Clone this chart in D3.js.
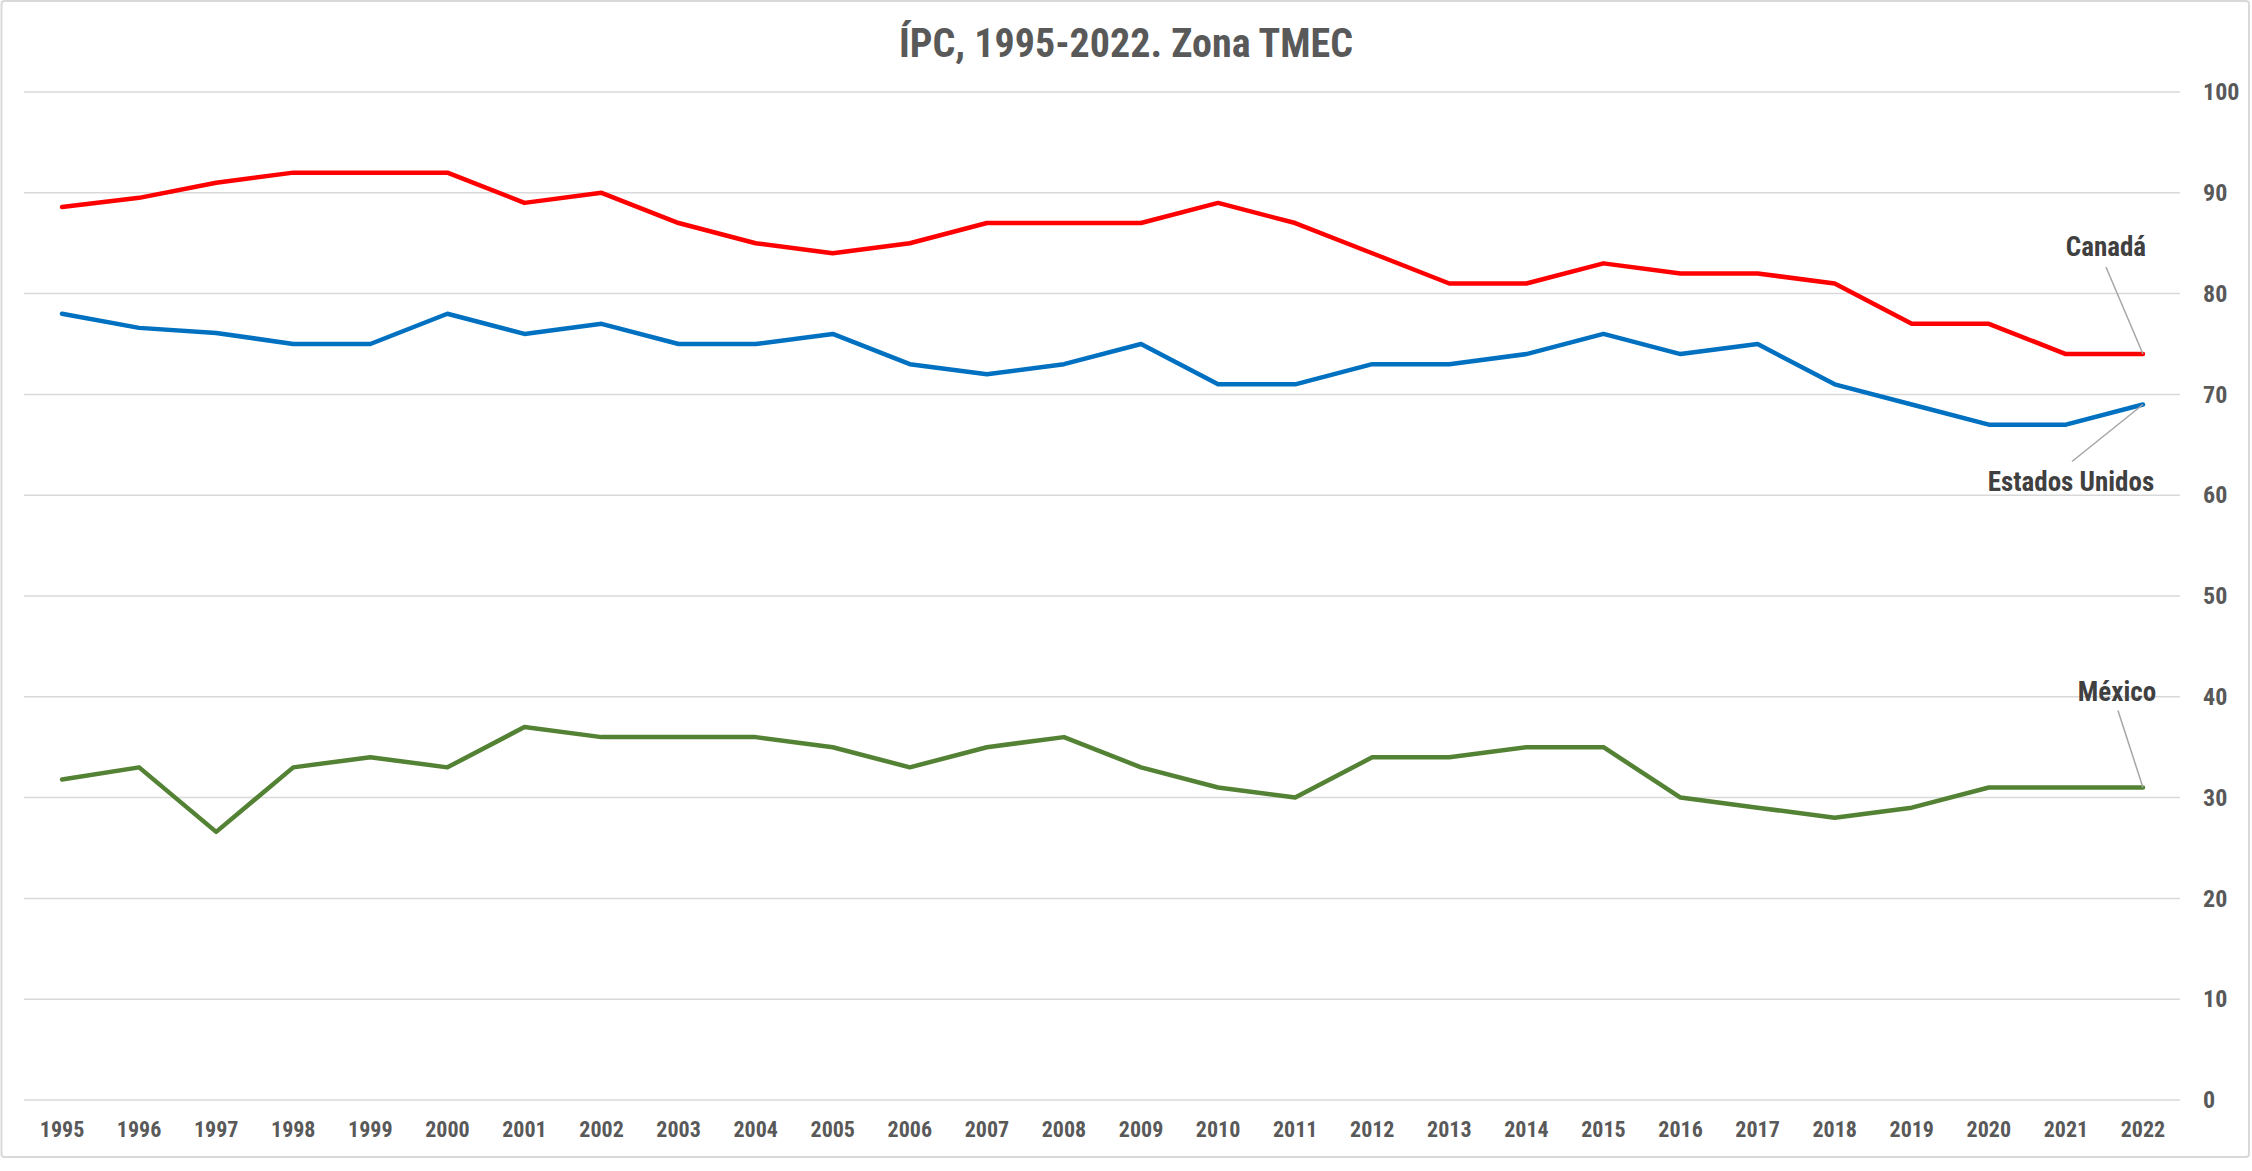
<!DOCTYPE html>
<html>
<head>
<meta charset="utf-8">
<script src="https://cdn.jsdelivr.net/npm/d3@7"></script>
<style>
  html, body { margin: 0; padding: 0; background: #fff; }
  #chart { width: 2252px; height: 1171px; }
</style>
</head>
<body>
<div id="chart"></div>
<script>
var years = [1995, 1996, 1997, 1998, 1999, 2000, 2001, 2002, 2003, 2004, 2005, 2006, 2007, 2008,
  2009, 2010, 2011, 2012, 2013, 2014, 2015, 2016, 2017, 2018, 2019, 2020, 2021, 2022];
var canada = [88.6, 89.5, 91, 92, 92, 92, 89, 90, 87, 85, 84, 85, 87, 87,
  87, 89, 87, 84, 81, 81, 83, 82, 82, 81, 77, 77, 74, 74];
var estadosUnidos = [78, 76.6, 76.1, 75, 75, 78, 76, 77, 75, 75, 76, 73, 72, 73,
  75, 71, 71, 73, 73, 74, 76, 74, 75, 71, 69, 67, 67, 69];
var mexico = [31.8, 33, 26.6, 33, 34, 33, 37, 36, 36, 36, 35, 33, 35, 36,
  33, 31, 30, 34, 34, 35, 35, 30, 29, 28, 29, 31, 31, 31];
var seriesNames = ['Canadá', 'Estados Unidos', 'México'];
var yTicks = [0, 10, 20, 30, 40, 50, 60, 70, 80, 90, 100];
var title = 'ÍPC, 1995-2022. Zona TMEC';

(function() {
  var FONT = '"Liberation Sans Narrow", "Arial Narrow", "Roboto Condensed", "DejaVu Sans Condensed", sans-serif';
  var w = 2252, h = 1171;
  var colors = { 'Canadá': '#ff0000', 'Estados Unidos': '#0070c0', 'México': '#548235' };
  // label placement relative to the last point: text center/baseline, leader line start
  var labelPos = {
    'Canadá': { tx: -37, ty: -98, lx: -37, ly: -87 },
    'Estados Unidos': { tx: -72, ty: 87, lx: -71, ly: 57 },
    'México': { tx: -26, ty: -87, lx: -25, ly: -77 }
  };
  var series = [
    { name: seriesNames[0], values: canada },
    { name: seriesNames[1], values: estadosUnidos },
    { name: seriesNames[2], values: mexico }
  ];

  var svg = d3.select('#chart').append('svg').attr('width', w).attr('height', h);

  // Border
  svg.append('rect').attr('x', 1.5).attr('y', 1).attr('width', 2247.5).attr('height', 1156)
    .attr('rx', 3).attr('fill', '#fff').attr('stroke', '#d9d9d9').attr('stroke-width', 2);

  var xScale = d3.scaleBand().domain(years).range([23.5, 2181.5]);
  var xc = function(d) { return xScale(d) + xScale.bandwidth() / 2; };
  var yScale = d3.scaleLinear().domain([0, 100]).range([1100, 92]);

  // Title
  svg.append('text').attr('x', w / 2).attr('y', 57).attr('text-anchor', 'middle')
    .attr('fill', '#595959').attr('font-size', '40px').attr('font-weight', 'bold').attr('font-family', FONT)
    .text(title);

  // Grid
  svg.append('g').selectAll('line').data(yTicks).join('line')
    .attr('x1', 24).attr('x2', 2180)
    .attr('y1', function(d) { return yScale(d); }).attr('y2', function(d) { return yScale(d); })
    .attr('stroke', '#d9d9d9').attr('stroke-width', 1.5);

  // Axes
  svg.append('g').attr('transform', 'translate(2180,0)')
    .call(d3.axisRight(yScale).tickValues(yTicks).tickSize(0).tickPadding(23))
    .call(function(g) { g.select('.domain').remove(); })
    .call(function(g) { g.selectAll('.tick text').attr('fill', '#595959').attr('font-size', '24px')
      .attr('font-weight', 'bold').attr('font-family', FONT); });

  svg.append('g').attr('transform', 'translate(0,1100)')
    .call(d3.axisBottom(xScale).tickSize(0).tickPadding(21))
    .call(function(g) { g.select('.domain').remove(); })
    .call(function(g) { g.selectAll('.tick text').attr('fill', '#595959').attr('font-size', '22px')
      .attr('font-weight', 'bold').attr('font-family', FONT); });

  // Lines
  var line = d3.line().x(function(d, i) { return xc(years[i]); }).y(function(d) { return yScale(d); });
  svg.append('g').selectAll('path').data(series).join('path')
    .attr('d', function(s) { return line(s.values); })
    .attr('fill', 'none')
    .attr('stroke', function(s) { return colors[s.name]; })
    .attr('stroke-width', 4.5)
    .attr('stroke-linejoin', 'round').attr('stroke-linecap', 'round');

  // Data labels with leader lines
  series.forEach(function(s) {
    var last = years.length - 1;
    var px = xc(years[last]), py = yScale(s.values[last]);
    var p = labelPos[s.name];
    svg.append('line').attr('x1', px + p.lx).attr('y1', py + p.ly).attr('x2', px).attr('y2', py)
      .attr('stroke', '#a6a6a6').attr('stroke-width', 1.5);
    svg.append('text').attr('x', px + p.tx).attr('y', py + p.ty).attr('text-anchor', 'middle')
      .attr('fill', '#404040').attr('font-size', '27px').attr('font-weight', 'bold').attr('font-family', FONT)
      .text(s.name);
  });
})();
</script>
</body>
</html>
